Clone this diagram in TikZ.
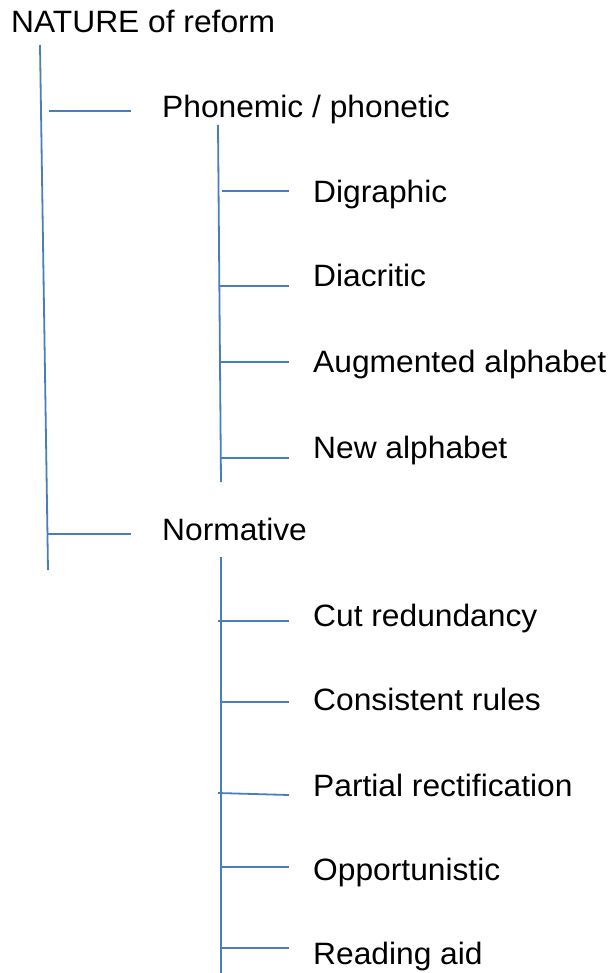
\documentclass[tikz,border=0pt]{standalone}
\usepackage{fontspec}
\setmainfont{Liberation Sans}[FakeStretch=1.028]
\definecolor{linkblue}{HTML}{4A7EBB}
\begin{document}
\begin{tikzpicture}[x=1bp,y=-1bp,
  lbl/.style={anchor=base west,inner sep=0pt,font=\fontsize{31}{36}\selectfont},
  tree/.style={draw=linkblue,line width=1.8bp}]
\useasboundingbox (0,0) rectangle (610,973);
% labels
\node[lbl] (root) at (11,32.3) {NATURE of reform};
\node[lbl] (phon) at (162,117) {Phonemic / phonetic};
\node[lbl] (dig) at (313,202.3) {Digraphic};
\node[lbl] (dia) at (313,286.7) {Diacritic};
\node[lbl] (aug) at (313,372) {Augmented alphabet};
\node[lbl] (new) at (313,458.3) {New alphabet};
\node[lbl] (norm) at (162,540.7) {Normative};
\node[lbl] (cut) at (313,626) {Cut redundancy};
\node[lbl] (cons) at (313,710.7) {Consistent rules};
\node[lbl] (part) at (313,796) {Partial rectification};
\node[lbl] (opp) at (313,880) {Opportunistic};
\node[lbl] (read) at (313,964) {Reading aid};
% trunk coordinates
\coordinate (t0) at (40,45);
\coordinate (t1) at (48,570);
\coordinate (a0) at (218,125);
\coordinate (a1) at (221,482);
\coordinate (b0) at (221,557);
\coordinate (b1) at (221,973);
% branch coordinates
\coordinate (p0) at (49,111); \coordinate (p1) at (131,111);
\coordinate (n0) at (48,534); \coordinate (n1) at (131,534);
\coordinate (d0) at (222,191); \coordinate (d1) at (289,191);
\coordinate (e0) at (219,286); \coordinate (e1) at (289,286);
\coordinate (g0) at (221,362); \coordinate (g1) at (289,362);
\coordinate (w0) at (221,458); \coordinate (w1) at (289,458);
\coordinate (c0) at (218,621); \coordinate (c1) at (289,621);
\coordinate (s0) at (221,702); \coordinate (s1) at (289,702);
\coordinate (r0) at (218,793); \coordinate (r1) at (289,795);
\coordinate (o0) at (221,867); \coordinate (o1) at (289,867);
\coordinate (q0) at (221,948); \coordinate (q1) at (289,948);
% lines
\draw[tree] (t0) -- (t1);
\draw[tree] (a0) -- (a1);
\draw[tree] (b0) -- (b1);
\foreach \u/\v in {p0/p1,n0/n1,d0/d1,e0/e1,g0/g1,w0/w1,c0/c1,s0/s1,r0/r1,o0/o1,q0/q1}
  \draw[tree] (\u) -- (\v);
\end{tikzpicture}
\end{document}
